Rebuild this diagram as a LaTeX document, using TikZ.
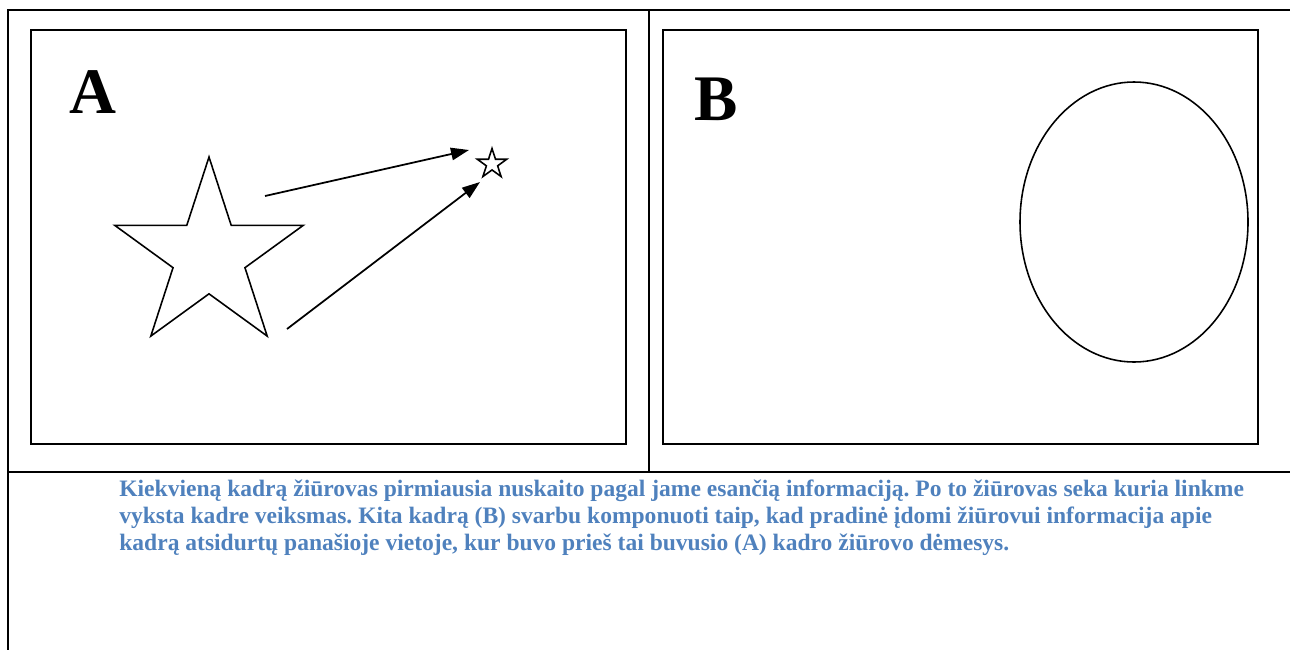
\documentclass[tikz,border=0pt]{standalone}
\usepackage{fontspec}
\setmainfont{Liberation Serif}
\usetikzlibrary{shapes,arrows.meta,positioning,calc}
\definecolor{notesblue}{RGB}{79,129,189}

\begin{document}
\frenchspacing
\begin{tikzpicture}[x=0.02cm, y=-0.02cm,
    rule/.style={line width=1.4pt},
    frame/.style={draw, line width=1pt, inner sep=0pt, minimum width=595*0.02cm, minimum height=414*0.02cm},
    label/.style={inner sep=0pt, font=\fontsize{37pt}{39pt}\selectfont\bfseries},
    starshape/.style={draw, star, star points=5, star point ratio=2.618, inner sep=0pt, line width=0.9pt},
    arr/.style={-{Triangle[length=0.36cm, width=0.25cm]}, line width=1pt}]
    \useasboundingbox (0,0) rectangle (1290,650);

    % table rules
    \draw[rule] (7,10) -- (1290,10);
    \draw[rule] (8,10) -- (8,650);
    \draw[rule] (649,10) -- (649,472);
    \draw[rule] (8,472) -- (1290,472);

    % the two frames
    \node[frame] (frameA) at (328.5,237) {};
    \node[frame] (frameB) at (960.5,237) {};
    \node[label] (labA) at (93,92) {A};
    \node[label] (labB) at (716,99) {B};

    % frame A
    \node[starshape, minimum size=198*0.02cm] (bigstar) at (209,256) {};
    \node[starshape, minimum size=31*0.02cm] (smallstar) at (492,164) {};
    \coordinate (tail1) at (265,196);
    \coordinate (head1) at (469,150);
    \coordinate (tail2) at (287,329);
    \coordinate (head2) at (480,182);
    \draw[arr] (tail1) -- (head1);
    \draw[arr] (tail2) -- (head2);

    % frame B
    \node[draw, ellipse, line width=0.9pt, inner sep=0pt, minimum width=228*0.02cm, minimum height=280*0.02cm] (oval) at (1134,222) {};

    % caption
    \node[anchor=north west, inner sep=0pt, align=left, text=notesblue,
          font=\fontsize{13.4pt}{15.1pt}\selectfont\bfseries] (note) at (119,480)
        {Kiekvieną kadrą žiūrovas pirmiausia nuskaito pagal jame esančią informaciją. Po to žiūrovas seka kuria linkme\\
         vyksta kadre veiksmas. Kita kadrą (B) svarbu komponuoti taip, kad pradinė įdomi žiūrovui informacija apie\\
         kadrą atsidurtų panašioje vietoje, kur buvo prieš tai buvusio (A) kadro žiūrovo dėmesys.};
\end{tikzpicture}
\end{document}
